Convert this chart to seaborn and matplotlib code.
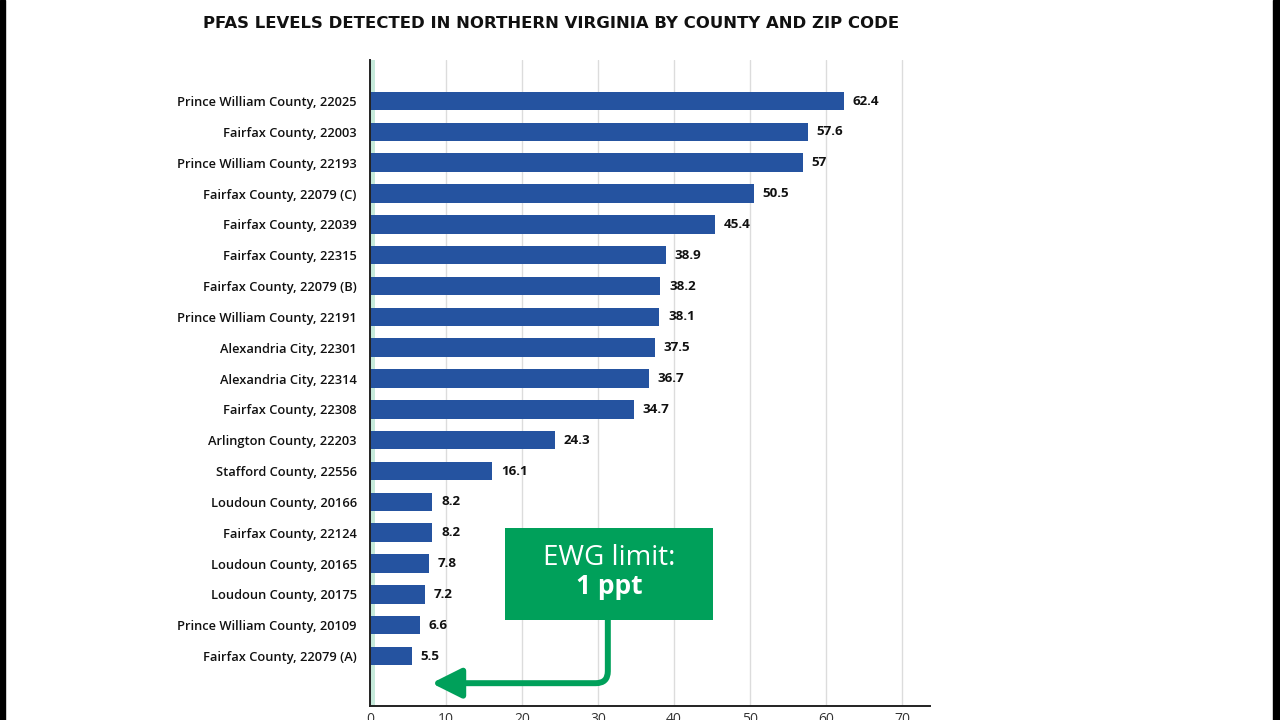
import matplotlib
matplotlib.use("Agg")
import matplotlib.pyplot as plt
import seaborn as sns
import pandas as pd
from matplotlib.patches import Rectangle

locations = [
    "Prince William County, 22025", "Fairfax County, 22003", "Prince William County, 22193",
    "Fairfax County, 22079 (C)", "Fairfax County, 22039", "Fairfax County, 22315",
    "Fairfax County, 22079 (B)", "Prince William County, 22191", "Alexandria City, 22301",
    "Alexandria City, 22314", "Fairfax County, 22308", "Arlington County, 22203",
    "Stafford County, 22556", "Loudoun County, 20166", "Fairfax County, 22124",
    "Loudoun County, 20165", "Loudoun County, 20175", "Prince William County, 20109",
    "Fairfax County, 22079 (A)",
]
pfas_ppt = [62.4, 57.6, 57, 50.5, 45.4, 38.9, 38.2, 38.1, 37.5, 36.7, 34.7, 24.3, 16.1,
            8.2, 8.2, 7.8, 7.2, 6.6, 5.5]
value_labels = ["62.4", "57.6", "57", "50.5", "45.4", "38.9", "38.2", "38.1", "37.5", "36.7",
                "34.7", "24.3", "16.1", "8.2", "8.2", "7.8", "7.2", "6.6", "5.5"]
x_ticks = [0, 10, 20, 30, 40, 50, 60, 70]
ewg_limit = 1

df = pd.DataFrame({"location": locations, "ppt": pfas_ppt})

sns.set_theme(style="white")
plt.rcParams["font.family"] = ["Open Sans", "DejaVu Sans"]

fig = plt.figure(figsize=(12.8, 7.2), dpi=100)
fig.patch.set_facecolor("white")
ax = fig.add_axes([370 / 1280, 1 - 706 / 720, (930 - 370) / 1280, (706 - 60) / 720])

BLUE = "#2553a0"
GREEN = "#00a05a"

sns.barplot(data=df, x="ppt", y="location", color=BLUE, width=0.6, ax=ax,
            saturation=1, edgecolor="none", zorder=3)

ax.set_xlim(0, 73.7)
ax.set_ylim(18 + 1.62, -1.33)
ax.set_xticks(x_ticks)
ax.grid(axis="x", color="#dcdcdc", linewidth=1, zorder=0)
ax.grid(axis="y", visible=False)
ax.axvspan(0, 0.6, color="#c6eadb", zorder=1, lw=0)

for s in ["top", "right"]:
    ax.spines[s].set_visible(False)
for s in ["left", "bottom"]:
    ax.spines[s].set_color("#222222")
    ax.spines[s].set_linewidth(1.4)
    ax.spines[s].set_zorder(5)

ax.set_xlabel("")
ax.set_ylabel("")
ax.tick_params(axis="y", length=0, pad=9.5, labelsize=9.3, labelcolor="#111111")
ax.tick_params(axis="x", length=0, pad=4, labelsize=10, labelcolor="#333333")
for lab in ax.get_yticklabels():
    lab.set_fontweight("semibold")

for i, (v, t) in enumerate(zip(pfas_ppt, value_labels)):
    ax.text(v + 1.15, i, t, va="center", ha="left", fontsize=9.6, fontweight="bold",
            color="#111111", zorder=6)

# EWG callout box
ax.add_patch(Rectangle((17.8, 13.85), 45.1 - 17.8, 16.83 - 13.85, facecolor=GREEN,
                       edgecolor="none", zorder=7))
ax.text((17.8 + 45.1) / 2, 14.82, "EWG limit:", ha="center", va="center", color="white",
        fontsize=20, zorder=8)
ax.text((17.8 + 45.1) / 2, 15.76, "1 ppt", ha="center", va="center", color="white",
        fontsize=19, fontweight="bold", zorder=8)
ax.annotate("", xy=(8.1, 18.88), xytext=(31.3, 16.8),
            arrowprops=dict(arrowstyle="-|>,head_length=1.0,head_width=0.5",
                            connectionstyle="angle,angleA=90,angleB=0,rad=12",
                            color=GREEN, lw=4.3, mutation_scale=18, shrinkA=0, shrinkB=0),
            zorder=7)

fig.text(551 / 1280, 1 - 23 / 720, "PFAS LEVELS DETECTED IN NORTHERN VIRGINIA BY COUNTY AND ZIP CODE",
         ha="center", va="center", fontsize=11.85, fontweight="bold", color="#111111",
         family=["DejaVu Sans"])

# letterbox edges
fig.add_artist(Rectangle((0, 0), 5 / 1280, 1, transform=fig.transFigure, color="black"))
fig.add_artist(Rectangle((1 - 7 / 1280, 0), 7 / 1280, 1, transform=fig.transFigure, color="black"))

fig.savefig("out.png", dpi=100, facecolor="white")
